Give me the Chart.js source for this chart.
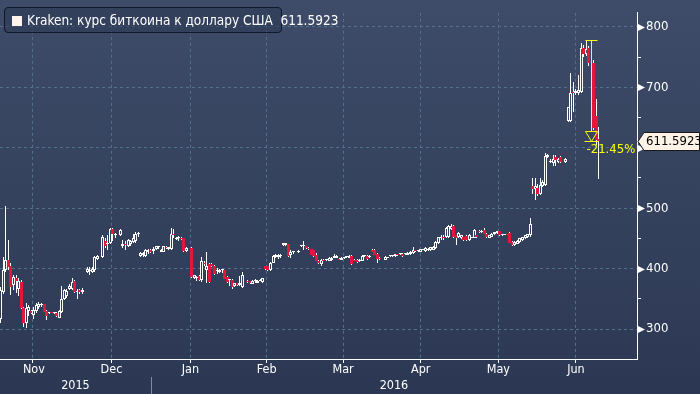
<!DOCTYPE html>
<html>
<head>
<meta charset="utf-8">
<script src="https://cdn.jsdelivr.net/npm/chart.js@4.4.1/dist/chart.umd.min.js"></script>
<style>
  html, body { margin: 0; padding: 0; background: #2d3954; }
  #wrap { position: relative; width: 700px; height: 394px; overflow: hidden; }
  #legend {
    position: absolute; left: 4px; top: 7px; width: 278px; height: 26px;
    box-sizing: border-box; border: 1px solid #101726; border-radius: 4px;
    background: rgba(44, 56, 82, 0.55);
  }
  #legend .sw { position: absolute; left: 7px; top: 8px; width: 10px; height: 10px; background: #fff3ee; }
  #legend .txt {
    position: absolute; left: 22px; top: 0; line-height: 24px; color: #ffffff;
    font-size: 13.5px; font-family: 'Liberation Sans Narrow', 'DejaVu Sans Condensed', sans-serif;
    white-space: pre;
  }
</style>
</head>
<body>
<div id="wrap">
  <canvas id="chart" width="700" height="394"></canvas>
  <div id="legend"><span class="sw"></span><span class="txt" id="legendText"></span></div>
</div>
<script>
'use strict'

/* global Chart */

// days are counted from 2015-11-01 (day 0), one candle per day starting at firstDay
const firstDay = 2
const seriesName = 'Kraken: курс биткоина к доллару США'

const opens = [
  316, 362, 397, 415, 405, 373, 384, 366, 378, 335,
  310, 330, 330, 324, 330, 337, 340, 341, 330, 326,
  327, 326, 327, 319, 329, 350, 355, 366, 366, 380,
  362, 364, 361, null, 394, 396, 395, 397, 416, null,
  419, 445, 440, 443, 466, 455, null, 456, 438, 441,
  438, 440, 444, 445, 457, 421, 422, 421, 427, 431,
  429, 432, 435, 428, 428, 436, 432, 432, 458, 449,
  450, 451, 450, 429, null, 434, 385, 384, 388, 381,
  410, 397, 408, 408, 404, 396, 394, 397, 397, 386,
  381, 381, 372, 376, 373, 370, null, 380, 379, 375,
  379, 377, 380, 378, 404, 404, 397, 410, 419, 419,
  421, 439, 439, 440, 423, 427, null, 427, 437, 437,
  437, 434, 432, 430, 423, 413, 407, 415, 414, 413,
  414, 418, 418, 416, 415, 417, 419, 418, 421, 415,
  415, 412, 413, 421, 421, 419, 431, 431, 425, 418,
  null, 415, 418, 421, 421, 421, 424, 424, 425, 424,
  423, 424, 426, 430, 429, 428, 431, 429, 431, 430,
  431, 434, 443, 450, 453, 453, 453, 466, 471, 455,
  452, 451, 452, 454, 447, 451, 451, 455, 463, 460,
  464, 458, 451, 453, 457, 459, 462, 455, 456, 457,
  459, 444, 439, 441, 444, 447, 450, 452, 455, 537,
  532, 534, 524, 537, 539, 585, 576, 575, 584, 576,
  584, null, 576, 645, 645, 693, 690, 690, 693, 765,
  755, 765, null, 741, 653, 614
]
const highs = [
  370, 420, 504, 448, 410, 390, 390, 384, 381, 336,
  343, 340, 332, 336, 343, 344, 343, 342, 331, 328,
  328, 328, 328, 332, 372, 367, 366, 374, 385, 381,
  367, 366, 368, null, 402, 403, 402, 421, 423, null,
  455, 450, 455, 467, 468, 459, null, 466, 447, 446,
  449, 448, 458, 461, 460, 427, 427, 432, 433, 432,
  435, 438, 437, 432, 438, 437, 436, 467, 466, 452,
  454, 452, 451, 436, null, 435, 390, 388, 389, 420,
  412, 428, 410, 410, 406, 401, 399, 400, 398, 387,
  383, 382, 377, 377, 388, 394, null, 381, 380, 381,
  382, 381, 382, 385, 405, 405, 411, 422, 424, 425,
  424, 442, 443, 441, 430, 428, null, 430, 439, 445,
  438, 435, 433, 431, 426, 414, 416, 416, 416, 419,
  420, 424, 422, 417, 419, 420, 420, 422, 422, 416,
  416, 416, 422, 422, 422, 422, 432, 432, 426, 419,
  null, 421, 419, 422, 423, 425, 425, 425, 426, 425,
  427, 429, 435, 431, 430, 433, 432, 435, 434, 436,
  437, 446, 453, 455, 455, 469, 472, 474, 472, 456,
  460, 456, 453, 455, 457, 453, 465, 456, 464, 464,
  467, 459, 456, 459, 461, 463, 463, 458, 457, 458,
  460, 445, 445, 447, 451, 453, 456, 458, 483, 550,
  550, 540, 550, 546, 592, 590, 582, 588, 588, 583,
  586, null, 583, 668, 723, 709, 697, 720, 773, 770,
  778.6, 768, null, 745, 680, 634
]
const lows = [
  310, 358, 395, 398, 357, 365, 360, 354, 333, 304,
  302, 322, 325, 316, 326, 333, 336, 328, 315, 325,
  326, 325, 320, 318, 327, 348, 352, 364, 364, 360,
  350, 358, 358, null, 392, 389, 393, 395, 414, null,
  417, 434, 431, 440, 445, 450, null, 454, 434, 430,
  436, 438, 442, 443, 453, 420, 420, 420, 425, 426,
  425, 430, 433, 427, 427, 432, 431, 431, 451, 447,
  446, 447, 428, 427, null, 384, 383, 379, 380, 378,
  405, 376, 377, 402, 389, 391, 392, 392, 382, 377,
  372, 367, 370, 372, 371, 368, null, 377, 375, 374,
  377, 376, 379, 377, 398, 396, 396, 409, 417, 416,
  418, 438, 438, 420, 418, 424, null, 426, 435, 431,
  433, 431, 422, 420, 412, 408, 404, 412, 412, 412,
  413, 417, 417, 414, 414, 416, 418, 417, 406, 412,
  410, 411, 412, 420, 415, 418, 427, 422, 410, 415,
  null, 414, 417, 420, 420, 420, 421, 423, 420, 423,
  422, 423, 425, 428, 428, 427, 430, 428, 429, 429,
  430, 433, 441, 448, 448, 451, 451, 464, 450, 439,
  450, 449, 445, 446, 445, 450, 450, 451, 459, 459,
  457, 451, 450, 452, 456, 458, 454, 454, 455, 455,
  442, 438, 438, 440, 443, 446, 449, 451, 453, 524,
  513, 520, 522, 535, 537, 583, 574, 570, 570, 574,
  575, null, 575, 643, 643, 660, 688, 688, 690, 750,
  752, 735, null, 630, 605, 548
]
const closes = [
  365, 397, 415, 402, 370, 386, 379, 380, 335, 310,
  334, 336, 326, 332, 339, 341, 342, 329, 322, 327,
  326, 327, 322, 330, 350, 364, 363, 372, 378, 362,
  363, 361, 365, null, 399, 398, 399, 419, 421, null,
  452, 438, 442, 466, 458, 457, null, 464, 441, 439,
  447, 446, 450, 458, 458, 426, 426, 431, 431, 428,
  433, 437, 436, 431, 437, 434, 435, 458, 455, 450,
  451, 449, 429, 434, null, 386, 389, 385, 381, 412,
  407, 405, 378, 404, 391, 397, 398, 397.5, 383, 378,
  381.5, 370, 376, 373, 376, 390, null, 378, 376, 380,
  380, 380, 380.5, 384, 399, 397, 410, 421, 423, 422,
  421.5, 442, 442, 421, 428, 427.5, null, 429, 437.5, 437.5,
  434, 432, 423, 421, 413, 409, 415, 413, 414.5, 418,
  418, 421, 421, 415, 418, 419, 419.5, 421, 407, 413,
  411, 415, 421, 421.5, 416, 421, 428, 423, 416, 416,
  null, 420, 418.5, 421.5, 421.5, 424, 422, 424.5, 421, 424.5,
  426, 428, 431, 429, 429.5, 432, 431.5, 434, 432, 435,
  436, 444, 452, 453, 450, 468, 471, 471, 452, 451,
  459, 455, 447, 447, 455, 452, 464, 452, 460, 463,
  458, 452, 455, 458, 460, 462, 455, 457, 456.5, 456,
  443, 439, 444, 446, 450, 452, 455, 457, 474, 532,
  537, 524, 539, 544, 586, 588, 578, 582, 580, 582,
  576, null, 582, 667, 691, 691, 694, 695, 765, 755,
  763, 741, null, 632, 613, 611.5923
]

const monthNames = ['Nov', 'Dec', 'Jan', 'Feb', 'Mar', 'Apr', 'May', 'Jun']
const monthStarts = [0, 30, 61, 92, 121, 152, 182, 213, 243]
const yearNames = ['2015', '2016']
const newYearDay = 61
const yTickValues = [300, 350, 400, 450, 500, 550, 600, 650, 700, 750, 800]
const markerDay = 233.8

const narrow = "'Liberation Sans Narrow', 'DejaVu Sans Condensed', sans-serif"
const downColor = '#e3173b'
const gridColor = '#52708c'
const gridDash = [3, 3]

const candles = []
opens.forEach((o, i) => {
  if (o === null) return
  candles.push({ x: firstDay + i, o, h: highs[i], l: lows[i], c: closes[i] })
})
const peak = Math.max(...highs.filter(v => v !== null))
const last = closes[closes.length - 1]
const change = ((last / peak - 1) * 100).toFixed(2) + '%'

document.getElementById('legendText').textContent = seriesName + '  ' + last.toFixed(4)

let panel = null
function panelFill (chart) {
  if (!panel) {
    panel = chart.ctx.createLinearGradient(0, 0, 0, chart.height)
    panel.addColorStop(0, '#3e4c69')
    panel.addColorStop(1, '#2c3853')
  }
  return panel
}

// snap the candle rectangles to whole pixels so the outlines stay crisp
const pixelSnap = {
  id: 'pixelSnap',
  afterDatasetsUpdate (chart) {
    chart.getSortedVisibleDatasetMetas().forEach(meta => {
      meta.data.forEach(el => {
        el.x = Math.floor(el.x) + 0.5
        el.y = Math.round(el.y)
        el.base = Math.round(el.base)
        if (Math.abs(el.base - el.y) < 1) el.base = el.y + 1
      })
    })
  }
}

const decorations = {
  id: 'decorations',
  beforeDraw (chart) {
    const ctx = chart.ctx
    ctx.save()
    ctx.fillStyle = panelFill(chart)
    ctx.fillRect(0, 0, chart.width, chart.height)
    ctx.restore()
  },
  afterDraw (chart) {
    const { ctx, chartArea } = chart
    const x = chart.scales.x
    const y = chart.scales.y
    const right = chartArea.right
    ctx.save()

    // pennants on the labelled price levels
    ctx.fillStyle = '#ffffff'
    yTickValues.forEach(v => {
      if (v % 100 !== 0) return
      const py = Math.round(y.getPixelForValue(v))
      ctx.beginPath()
      ctx.moveTo(right + 1, py - 3)
      ctx.lineTo(right + 8, py + 0.5)
      ctx.lineTo(right + 1, py + 4)
      ctx.closePath()
      ctx.fill()
    })

    // divider between the years
    const sx = Math.round(x.getPixelForValue(newYearDay)) + 0.5
    ctx.strokeStyle = '#7f8a9e'
    ctx.lineWidth = 1
    ctx.beginPath()
    ctx.moveTo(sx, chartArea.bottom + 18)
    ctx.lineTo(sx, chart.height)
    ctx.stroke()

    // drawdown from the peak to the last price
    const ax = Math.round(x.getPixelForValue(markerDay)) + 0.5
    const yt = Math.round(y.getPixelForValue(peak)) + 0.5
    const yb = Math.round(y.getPixelForValue(last)) + 0.5
    ctx.strokeStyle = '#ffff00'
    ctx.beginPath()
    ctx.moveTo(ax - 6, yt)
    ctx.lineTo(ax + 6, yt)
    ctx.moveTo(ax, yt)
    ctx.lineTo(ax, yb - 10)
    ctx.moveTo(ax - 6, yb - 10)
    ctx.lineTo(ax + 6, yb - 10)
    ctx.lineTo(ax, yb)
    ctx.closePath()
    ctx.moveTo(ax - 7, yb)
    ctx.lineTo(ax + 7, yb)
    ctx.stroke()
    ctx.fillStyle = '#ffff00'
    ctx.font = '13px ' + narrow
    ctx.textAlign = 'left'
    ctx.textBaseline = 'middle'
    ctx.fillText(change, ax - 5, yb + 8)

    // last price tag
    const ty = Math.round(y.getPixelForValue(last)) + 0.5
    ctx.beginPath()
    ctx.moveTo(right + 1, ty)
    ctx.lineTo(right + 7, ty - 9)
    ctx.lineTo(chart.width - 0.5, ty - 9)
    ctx.lineTo(chart.width - 0.5, ty + 9)
    ctx.lineTo(right + 7, ty + 9)
    ctx.closePath()
    ctx.fillStyle = '#fdf2e6'
    ctx.fill()
    ctx.strokeStyle = '#1a1a1a'
    ctx.stroke()
    ctx.fillStyle = '#000000'
    ctx.font = '13px ' + narrow
    ctx.fillText(last.toFixed(4), right + 9, ty + 0.5)
    ctx.restore()
  }
}

Chart.defaults.font.family = narrow
Chart.defaults.color = '#ffffff'

const chart = new Chart(document.getElementById('chart'), {
  type: 'bar',
  data: {
    datasets: [{
      label: seriesName,
      data: candles.map(k => ({ x: k.x, y: [k.o, k.c], up: k.c >= k.o })),
      xAxisID: 'x',
      yAxisID: 'y',
      grouped: false,
      order: 0,
      barThickness: 3,
      minBarLength: 1,
      inflateAmount: 0,
      borderSkipped: false,
      borderWidth: (c) => (c.raw && c.raw.up ? 1 : 0),
      borderColor: '#ffffff',
      backgroundColor: (c) => (c.raw && c.raw.up ? panelFill(c.chart) : downColor)
    }, {
      label: 'range',
      data: candles.map(k => ({ x: k.x, y: [k.l, k.h] })),
      xAxisID: 'x',
      yAxisID: 'y',
      grouped: false,
      order: 1,
      barThickness: 1,
      inflateAmount: 0,
      borderWidth: 0,
      backgroundColor: '#ffffff'
    }]
  },
  options: {
    responsive: false,
    devicePixelRatio: 1,
    animation: false,
    events: [],
    layout: { padding: 0, autoPadding: false },
    plugins: {
      legend: { display: false },
      tooltip: { enabled: false }
    },
    scales: {
      x: {
        type: 'linear',
        position: 'bottom',
        min: 1.7,
        max: 252,
        bounds: 'data',
        offset: false,
        weight: 0,
        afterBuildTicks: (s) => { s.ticks = monthStarts.slice(1).map(v => ({ value: v })) },
        afterFit: (s) => { s.height = 4 },
        ticks: { display: false },
        grid: { color: gridColor, tickColor: '#ffffff', tickLength: 4 },
        border: { color: '#ffffff', width: 1, dash: gridDash }
      },
      xm: {
        type: 'linear',
        position: 'bottom',
        min: 1.7,
        max: 252,
        bounds: 'data',
        offset: false,
        weight: 1,
        afterBuildTicks: (s) => {
          s.ticks = monthNames.map((n, i) => ({ value: (monthStarts[i] + monthStarts[i + 1]) / 2 }))
        },
        afterFit: (s) => { s.height = 16 },
        grid: { display: false, drawTicks: false },
        border: { display: false },
        ticks: {
          color: '#ffffff',
          padding: 0,
          autoSkip: false,
          maxRotation: 0,
          font: { size: 12.5, lineHeight: 1 },
          callback: (v, i) => monthNames[i]
        }
      },
      xy: {
        type: 'linear',
        position: 'bottom',
        min: 1.7,
        max: 252,
        bounds: 'data',
        offset: false,
        weight: 2,
        afterBuildTicks: (s) => {
          s.ticks = [{ value: (s.min + newYearDay) / 2 }, { value: (newYearDay + s.max) / 2 }]
        },
        afterFit: (s) => { s.height = 15 },
        grid: { display: false, drawTicks: false },
        border: { display: false },
        ticks: {
          color: '#ffffff',
          padding: 0,
          autoSkip: false,
          maxRotation: 0,
          font: { size: 12.5, lineHeight: 1 },
          callback: (v, i) => yearNames[i]
        }
      },
      y: {
        type: 'linear',
        position: 'right',
        min: 250.4,
        max: 823.4,
        bounds: 'data',
        afterBuildTicks: (s) => { s.ticks = yTickValues.map(v => ({ value: v })) },
        afterFit: (s) => { s.width = 63 },
        ticks: {
          color: '#ffffff',
          padding: 5,
          font: { size: 13 },
          callback: (v) => (v % 100 === 0 ? String(v) : '')
        },
        grid: {
          color: (c) => (c.tick && c.tick.value % 100 === 0 ? gridColor : 'rgba(0,0,0,0)'),
          tickColor: '#ffffff',
          tickLength: 4
        },
        border: { color: '#ffffff', width: 1, dash: gridDash }
      }
    }
  },
  plugins: [pixelSnap, decorations]
})
</script>
</body>
</html>
